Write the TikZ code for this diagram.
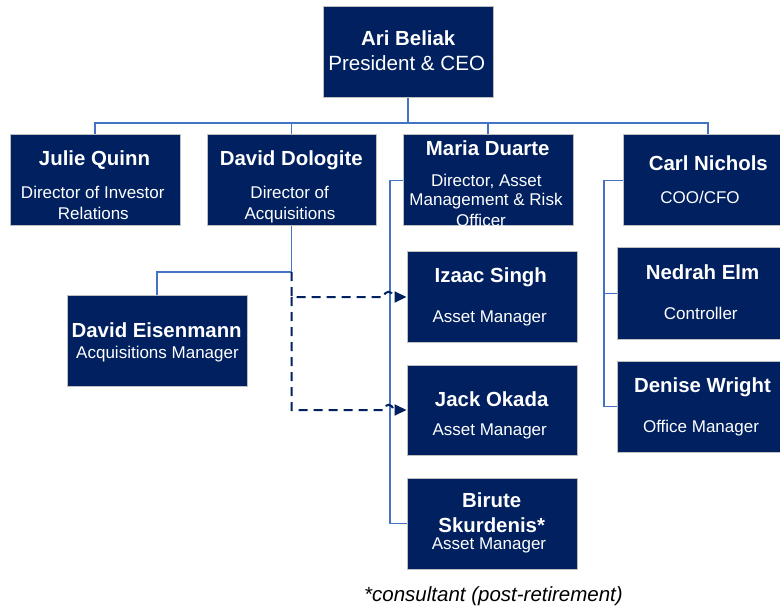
\documentclass[tikz,border=0pt]{standalone}
\usepackage{fontspec}
\setmainfont{Liberation Sans}
\usetikzlibrary{arrows.meta,calc}
\definecolor{navy}{RGB}{0,32,96}
\definecolor{connblue}{RGB}{68,114,196}
\definecolor{boxline}{RGB}{191,191,191}
\begin{document}
\begin{tikzpicture}[x=1pt,y=-1pt,
  orgbox/.style={draw=boxline, fill=navy, line width=1pt, inner sep=0pt, minimum width=170pt, minimum height=91pt},
  nm/.style={text=white, anchor=base, inner sep=0pt, font=\bfseries\fontsize{20.4}{24}\selectfont},
  sub/.style={text=white, anchor=base, inner sep=0pt, font=\fontsize{17}{20}\selectfont},
  connector/.style={draw=connblue, line width=1.8pt},
  dsh/.style={draw=navy, line width=2pt, dash pattern=on 9pt off 6pt, -{Triangle[length=12pt,width=11pt]}}
]
\useasboundingbox (0,0) rectangle (780,607);
\clip (0,0) rectangle (780,607);

% boxes
\node[orgbox] (ari) at (408,52.5) {};
\node[orgbox] (julie) at (95,180.5) {};
\node[orgbox, minimum width=169pt] (dolo) at (291.5,180.5) {};
\node[orgbox] (maria) at (488,180.5) {};
\node[orgbox] (carl) at (708,180.5) {};
\node[orgbox, minimum width=180pt] (eis) at (157,340.5) {};
\node[orgbox, minimum height=90pt] (izaac) at (492,297) {};
\node[orgbox, minimum height=90pt] (jack) at (492,410) {};
\node[orgbox] (birute) at (492,523.5) {};
\node[orgbox] (nedrah) at (702,293.5) {};
\node[orgbox] (denise) at (702,406.5) {};

% connectors
\coordinate (busy) at (0,123);
\coordinate (j1) at (291.5,272);
\coordinate (mx) at (390,0);
\coordinate (cx) at (604,0);
\draw[connector] (ari.south) -- (ari.south |- busy);
\draw[connector] (julie.north) -- (julie.north |- busy) -- (carl.north |- busy) -- (carl.north);
\draw[connector] (dolo.north) -- (dolo.north |- busy);
\draw[connector] (maria.north) -- (maria.north |- busy);
\draw[connector] (dolo.south) -- (j1) -| (eis.north);
\draw[connector] (maria.west) -- (maria.west -| mx) |- (birute.west);
\draw[connector] (carl.west) -- (carl.west -| cx) |- (denise.west);
\draw[connector] (nedrah.west) -- (nedrah.west -| cx);

% dashed reporting lines with hops
\coordinate (ia) at ($(izaac.west -| mx)+(-6,0)$);
\coordinate (ib) at ($(izaac.west -| mx)+(3,0)$);
\coordinate (ja) at ($(jack.west -| mx)+(-6,0)$);
\coordinate (jb) at ($(jack.west -| mx)+(3,0)$);
\draw[dsh] (j1) -- (izaac.west -| j1) -- (ia) .. controls ($(ia)+(0,-7)$) and ($(ib)+(0,-7)$) .. (ib) -- (izaac.west);
\draw[dsh] (izaac.west -| j1) -- (jack.west -| j1) -- (ja) .. controls ($(ja)+(0,-7)$) and ($(jb)+(0,-7)$) .. (jb) -- (jack.west);

% texts
\node[nm] (t-ari) at (408.3,45.7) {Ari Beliak};
\node[text=white, anchor=base, inner sep=0pt, font=\fontsize{20.6}{24}\selectfont] (t-ari2) at (406.7,71) {President \& CEO};

\node[nm] (t-jul) at (94.5,166) {Julie Quinn};
\node[sub] (t-jul2) at (92.8,199) {Director of Investor};
\node[sub] (t-jul3) at (93.3,219.5) {Relations};

\node[nm] (t-dol) at (291.3,166) {David Dologite};
\node[sub] (t-dol2) at (289.7,199) {Director of};
\node[sub] (t-dol3) at (290,219.5) {Acquisitions};

\node[nm] (t-mar) at (487.7,156) {Maria Duarte};
\node[sub] (t-mar2) at (486.3,186.5) {Director, Asset};
\node[sub] (t-mar3) at (486,206) {Management \& Risk};
\begin{scope}
\clip ($(maria.north west)+(0.5,0.5)$) rectangle ($(maria.south east)+(-0.5,-0.5)$);
\node[sub] (t-mar4) at (481,226) {Officer};
\end{scope}

\node[nm] (t-car) at (708.3,170.3) {Carl Nichols};
\node[sub] (t-car2) at (700,203.2) {COO/CFO};

\node[nm] (t-ned) at (702.5,279.6) {Nedrah Elm};
\node[sub] (t-ned2) at (700.8,319.9) {Controller};

\node[nm] (t-den) at (702.5,392) {Denise Wright};
\node[sub] (t-den2) at (701,432.2) {Office Manager};

\node[nm] (t-iza) at (490.8,283) {Izaac Singh};
\node[sub] (t-iza2) at (489.7,322.9) {Asset Manager};

\node[nm] (t-jac) at (491.7,406.3) {Jack Okada};
\node[sub] (t-jac2) at (489.7,435.5) {Asset Manager};

\node[nm] (t-eis) at (156.7,337) {David Eisenmann};
\node[sub] (t-eis2) at (157.5,358.2) {Acquisitions Manager};

\node[nm] (t-bir) at (491.7,507) {Birute};
\node[nm] (t-bir2) at (491.7,532) {Skurdenis*};
\node[sub] (t-bir3) at (489,549.5) {Asset Manager};

\node[anchor=base, inner sep=0pt, font=\itshape\fontsize{20.5}{24}\selectfont] (note) at (493.5,601.4) {*consultant (post-retirement)};
\end{tikzpicture}
\end{document}
